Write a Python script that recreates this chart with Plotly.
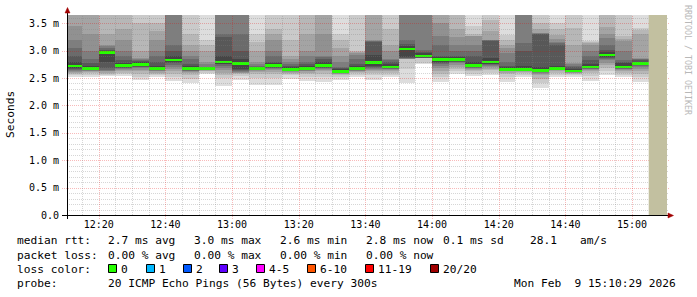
import plotly.graph_objects as go
from datetime import datetime, timedelta

# ---------------- data ----------------
DAY = "2026-02-09"
bar_starts = ["12:10", "12:15", "12:20", "12:25", "12:30", "12:35", "12:40", "12:45", "12:50", "12:55",
              "13:00", "13:05", "13:10", "13:15", "13:20", "13:25", "13:30", "13:35", "13:40", "13:45",
              "13:50", "13:55", "14:00", "14:05", "14:10", "14:15", "14:20", "14:25", "14:30", "14:35",
              "14:40", "14:45", "14:50", "14:55", "15:00"]

# median RTT per 5-minute step (ms)
medians_ms = [2.72, 2.68, 2.97, 2.73, 2.75, 2.67, 2.83, 2.67, 2.67, 2.79,
              2.77, 2.67, 2.73, 2.66, 2.67, 2.73, 2.62, 2.67, 2.78, 2.70,
              3.03, 2.90, 2.84, 2.84, 2.73, 2.79, 2.66, 2.66, 2.64, 2.68,
              2.63, 2.70, 2.92, 2.70, 2.77]

# 20 sorted ping times per step (ms) -> smoke
pings_ms = [
    [2.51, 2.55, 2.57, 2.59, 2.61, 2.63, 2.65, 2.67, 2.69, 2.70, 2.74, 2.80, 2.90, 3.05, 3.20, 3.45, 3.90, 4.20, 4.60, 5.20],
    [2.51, 2.56, 2.59, 2.61, 2.62, 2.63, 2.64, 2.65, 2.66, 2.67, 2.69, 2.72, 2.78, 2.85, 3.00, 3.30, 3.80, 4.10, 4.50, 5.00],
    [2.53, 2.56, 2.58, 2.60, 2.62, 2.63, 2.65, 2.68, 2.80, 2.96, 2.98, 3.00, 3.02, 3.05, 3.08, 3.10, 3.30, 3.80, 4.20, 4.80],
    [2.53, 2.57, 2.60, 2.62, 2.64, 2.66, 2.68, 2.69, 2.70, 2.71, 2.75, 2.78, 2.82, 2.90, 3.00, 3.20, 3.40, 3.90, 4.30, 4.90],
    [2.46, 2.52, 2.58, 2.62, 2.65, 2.68, 2.70, 2.71, 2.72, 2.73, 2.77, 2.79, 2.81, 2.83, 2.85, 2.87, 3.00, 3.50, 3.90, 4.50],
    [2.51, 2.55, 2.58, 2.60, 2.62, 2.63, 2.64, 2.65, 2.65, 2.65, 2.69, 2.72, 2.80, 2.90, 3.00, 3.20, 3.35, 3.50, 3.90, 4.50],
    [2.44, 2.52, 2.58, 2.62, 2.66, 2.70, 2.74, 2.77, 2.79, 2.81, 2.85, 2.90, 3.00, 3.10, 3.70, 3.90, 4.10, 4.40, 4.80, 5.30],
    [2.41, 2.48, 2.55, 2.59, 2.61, 2.62, 2.63, 2.64, 2.65, 2.65, 2.69, 2.72, 2.75, 2.85, 2.90, 3.00, 3.10, 3.30, 3.80, 4.40],
    [2.58, 2.60, 2.62, 2.63, 2.64, 2.65, 2.655, 2.66, 2.66, 2.66, 2.68, 2.685, 2.69, 2.70, 2.75, 2.80, 3.00, 3.10, 3.20, 4.00],
    [2.35, 2.50, 2.55, 2.60, 2.64, 2.68, 2.72, 2.75, 2.76, 2.77, 2.81, 2.90, 3.25, 3.30, 3.70, 3.90, 4.20, 4.50, 4.90, 5.50],
    [2.47, 2.53, 2.57, 2.59, 2.60, 2.61, 2.62, 2.64, 2.66, 2.75, 2.79, 2.85, 3.00, 3.30, 3.70, 3.90, 4.20, 4.50, 4.90, 5.40],
    [2.37, 2.50, 2.58, 2.61, 2.63, 2.64, 2.65, 2.655, 2.66, 2.66, 2.68, 2.69, 2.70, 2.72, 2.75, 2.80, 3.00, 3.15, 3.30, 4.00],
    [2.37, 2.50, 2.57, 2.61, 2.64, 2.66, 2.68, 2.69, 2.70, 2.71, 2.75, 2.78, 2.80, 2.90, 3.00, 3.20, 3.30, 3.40, 3.90, 4.50],
    [2.49, 2.55, 2.58, 2.60, 2.61, 2.62, 2.63, 2.635, 2.64, 2.64, 2.68, 2.70, 2.72, 2.75, 2.80, 2.85, 2.90, 3.20, 3.80, 4.40],
    [2.44, 2.52, 2.57, 2.60, 2.62, 2.63, 2.64, 2.65, 2.65, 2.65, 2.69, 2.72, 2.75, 2.80, 2.90, 3.00, 3.30, 3.80, 4.20, 4.80],
    [2.43, 2.52, 2.58, 2.62, 2.65, 2.67, 2.68, 2.69, 2.70, 2.71, 2.75, 2.80, 2.85, 2.88, 2.90, 3.30, 3.80, 4.10, 4.50, 5.00],
    [2.46, 2.52, 2.55, 2.57, 2.58, 2.59, 2.595, 2.60, 2.60, 2.60, 2.64, 2.66, 2.68, 2.70, 2.80, 2.90, 3.05, 3.20, 3.30, 4.00],
    [2.51, 2.56, 2.59, 2.61, 2.62, 2.63, 2.64, 2.65, 2.65, 2.65, 2.69, 2.72, 2.75, 2.85, 2.92, 2.96, 2.98, 3.00, 3.80, 4.40],
    [2.47, 2.55, 2.60, 2.63, 2.65, 2.67, 2.68, 2.70, 2.72, 2.76, 2.80, 2.92, 3.15, 3.17, 3.18, 3.19, 3.80, 4.00, 4.40, 5.00],
    [2.51, 2.56, 2.60, 2.63, 2.65, 2.66, 2.67, 2.675, 2.68, 2.68, 2.72, 2.75, 2.80, 2.83, 2.85, 3.00, 3.10, 3.40, 3.90, 4.50],
    [2.41, 2.67, 2.84, 2.845, 2.85, 2.855, 2.858, 2.86, 2.88, 3.01, 3.05, 3.08, 3.12, 3.20, 3.70, 3.90, 4.10, 4.40, 4.80, 5.30],
    [2.76, 2.78, 2.86, 2.862, 2.864, 2.866, 2.868, 2.87, 2.875, 2.88, 2.92, 2.95, 2.98, 3.01, 3.70, 3.90, 4.20, 4.60, 5.10, 5.60],
    [2.43, 2.52, 2.58, 2.63, 2.68, 2.72, 2.75, 2.78, 2.80, 2.82, 2.86, 2.88, 2.90, 3.10, 3.26, 3.50, 3.80, 4.00, 4.40, 5.00],
    [2.57, 2.62, 2.66, 2.70, 2.74, 2.77, 2.79, 2.80, 2.81, 2.82, 2.86, 2.88, 2.90, 3.00, 3.10, 3.25, 3.40, 3.80, 4.20, 4.80],
    [2.53, 2.58, 2.62, 2.65, 2.67, 2.68, 2.69, 2.70, 2.71, 2.71, 2.75, 2.80, 2.90, 3.00, 3.10, 3.26, 3.27, 3.30, 3.45, 4.20],
    [2.55, 2.60, 2.64, 2.67, 2.70, 2.72, 2.74, 2.75, 2.76, 2.77, 2.81, 2.86, 3.18, 3.19, 3.20, 3.20, 3.35, 3.55, 3.90, 4.40],
    [2.43, 2.52, 2.57, 2.60, 2.62, 2.63, 2.635, 2.64, 2.64, 2.64, 2.68, 2.70, 2.72, 2.80, 2.95, 3.05, 3.10, 3.20, 3.29, 4.00],
    [2.51, 2.56, 2.59, 2.61, 2.62, 2.63, 2.635, 2.64, 2.64, 2.64, 2.68, 2.72, 3.00, 3.14, 3.70, 3.90, 4.10, 4.40, 4.80, 5.30],
    [2.32, 2.40, 2.48, 2.55, 2.58, 2.60, 2.61, 2.615, 2.62, 2.62, 2.66, 2.70, 3.30, 3.31, 3.32, 3.33, 3.40, 3.50, 3.90, 4.40],
    [2.51, 2.56, 2.60, 2.62, 2.64, 2.65, 2.655, 2.66, 2.66, 2.66, 2.70, 2.72, 3.10, 3.13, 3.15, 3.22, 3.29, 3.40, 3.50, 4.10],
    [2.52, 2.56, 2.58, 2.59, 2.60, 2.605, 2.61, 2.61, 2.61, 2.61, 2.65, 2.67, 2.70, 2.72, 2.75, 2.77, 3.10, 3.41, 3.90, 4.40],
    [2.45, 2.54, 2.59, 2.62, 2.64, 2.66, 2.67, 2.675, 2.68, 2.68, 2.72, 2.75, 2.82, 2.90, 3.00, 3.10, 3.13, 3.15, 3.17, 4.00],
    [2.55, 2.62, 2.68, 2.73, 2.78, 2.82, 2.85, 2.87, 2.88, 2.90, 2.94, 2.97, 3.01, 3.10, 3.23, 3.30, 3.44, 3.80, 4.20, 4.80],
    [2.51, 2.56, 2.60, 2.63, 2.65, 2.66, 2.67, 2.675, 2.68, 2.68, 2.72, 2.77, 2.80, 2.83, 3.00, 3.17, 3.22, 3.26, 3.90, 4.40],
    [2.43, 2.52, 2.58, 2.63, 2.67, 2.70, 2.72, 2.74, 2.75, 2.75, 2.79, 2.80, 2.82, 2.84, 2.85, 2.86, 3.30, 3.38, 3.41, 4.00],
]

x_tick_labels = ["12:20", "12:40", "13:00", "13:20", "13:40", "14:00", "14:20", "14:40", "15:00"]
y_tick_vals = [0.0, 0.5, 1.0, 1.5, 2.0, 2.5, 3.0, 3.5]
y_tick_text = ["0.0", "0.5 m", "1.0 m", "1.5 m", "2.0 m", "2.5 m", "3.0 m", "3.5 m"]

graph_start = "12:10:29"
graph_end = "15:10:29"
unknown_start = "15:05:00"
Y_MAX = 3.65

loss_labels = ["0", "1", "2", "3", "4-5", "6-10", "11-19", "20/20"]
loss_colors = ["#26ff00", "#00b8ff", "#0059ff", "#5e00ff", "#ff00ff", "#ff5500", "#ff0000", "#a00000"]

# ---------------- helpers ----------------
W, H = 697, 297
ML, MR, MT, MB = 67, 30, 15, 82
PW, PH = W - ML - MR, H - MT - MB


def px(x):
    return (x - ML) / PW


def py(y):
    return (H - MB - y) / PH


def dt(hm):
    fmt = "%Y-%m-%d %H:%M:%S" if hm.count(":") == 2 else "%Y-%m-%d %H:%M"
    return datetime.strptime(DAY + " " + hm, fmt)


T0, T1 = dt(graph_start), dt(graph_end)
SPAN = (T1 - T0).total_seconds()


def snap_x(t):
    # pixel-aligned column for a time value (for crisp rrdtool-like grid lines)
    col = round(ML + (t - T0).total_seconds() / SPAN * PW)
    return px(col + 0.5)


def snap_y(v):
    row = round(MT + PH - v / Y_MAX * PH)
    return py(row + 0.5)


STEP = 300
centers = [dt(s) + timedelta(seconds=STEP / 2) for s in bar_starts]
MONO = "DejaVu Sans Mono"

fig = go.Figure()

# smoke layers (outer light -> inner dark)
n = 20
half = n // 2
for i in range(1, half + 1):
    g = int(190 / half * (half - i)) + 50
    base = [p[i - 1] for p in pings_ms]
    top = [p[n - i] for p in pings_ms]
    fig.add_trace(go.Bar(
        x=centers, base=base, y=[t - b for t, b in zip(top, base)],
        width=STEP * 1000, marker=dict(color=f"rgb({g},{g},{g})", line=dict(width=0)),
        hoverinfo="skip"))

# median line (loss colour 0)
MED_H = 0.05
fig.add_trace(go.Bar(
    x=centers, base=[m - MED_H / 2 for m in medians_ms], y=[MED_H] * len(medians_ms),
    width=STEP * 1000, marker=dict(color=loss_colors[0], line=dict(width=0)),
    hoverinfo="skip"))

shapes = []
# grid (drawn over the smoke, like rrdtool)
minor_col = "rgba(128,128,128,0.32)"
major_col = "rgba(229,0,0,0.27)"
dash = "1px,1px"
k = 1
while k * 0.1 < Y_MAX:
    v = round(k * 0.1, 2)
    major = (k % 5 == 0)
    yy = snap_y(v)
    shapes.append(dict(type="line", xref="paper", yref="paper", x0=px(62) if major else px(67), x1=px(669), y0=yy, y1=yy,
                       line=dict(color=major_col if major else minor_col, width=1, dash=dash), layer="above"))
    k += 1
t = dt("12:15")
while t < T1:
    major = (t.minute % 20 == 0)
    xx = snap_x(t)
    shapes.append(dict(type="line", xref="paper", yref="paper", x0=xx, x1=xx, y0=py(219) if major else py(215), y1=1,
                       line=dict(color=major_col if major else minor_col, width=1, dash=dash), layer="above"))
    t += timedelta(minutes=5)

# unknown data area
shapes.append(dict(type="rect", xref="x", yref="paper", x0=dt(unknown_start), x1=T1, y0=0, y1=1,
                   fillcolor="#c2c0a0", line=dict(width=0), layer="above"))

# axes lines + arrows
shapes.append(dict(type="line", xref="paper", yref="paper", x0=px(62), x1=px(670), y0=py(215.5), y1=py(215.5),
                   line=dict(color="black", width=1), layer="above"))
shapes.append(dict(type="line", xref="paper", yref="paper", x0=px(67.5), x1=px(67.5), y0=py(219), y1=py(12),
                   line=dict(color="black", width=1), layer="above"))
shapes.append(dict(type="path", xref="paper", yref="paper",
                   path=f"M {px(65)} {py(13)} L {px(67.5)} {py(7.5)} L {px(70)} {py(13)} Z",
                   fillcolor="#a00000", line=dict(color="#a00000", width=0.5), layer="above"))
shapes.append(dict(type="path", xref="paper", yref="paper",
                   path=f"M {px(668)} {py(213)} L {px(673.5)} {py(215.5)} L {px(668)} {py(218)} Z",
                   fillcolor="#a00000", line=dict(color="#a00000", width=0.5), layer="above"))

annotations = []


def txt(x, y, s, size=11.2, color="black", anchor="left", angle=0):
    annotations.append(dict(xref="paper", yref="paper", x=px(x), y=py(y), text=s, showarrow=False,
                            xanchor=anchor, yanchor="middle", textangle=angle,
                            font=dict(family=MONO, size=size, color=color), borderpad=0))


# axis title and watermark
txt(10, 115, "Seconds", size=11.2, anchor="center", angle=-90)
txt(688, 60, "RRDTOOL / TOBI OETIKER", size=8.3, color="#b8b8b8", anchor="center", angle=90)

NB = "\u00a0"
# legend lines
txt(16, 241, "median rtt:")
txt(107, 241, "2.7 ms avg")
txt(193, 241, "3.0 ms max")
txt(279, 241, "2.6 ms min")
txt(365, 241, "2.8 ms now")
txt(442, 241, "0.1 ms sd")
txt(529, 241, "28.1")
txt(579, 241, "am/s")

txt(16, 255, "packet loss:")
txt(107, 255, "0.00 % avg")
txt(193, 255, "0.00 % max")
txt(279, 255, "0.00 % min")
txt(365, 255, "0.00 % now")

txt(16, 269, "loss color:")
sq_x = [108, 146, 183, 219, 256, 307, 365, 430]
for x0, lab, col in zip(sq_x, loss_labels, loss_colors):
    shapes.append(dict(type="rect", xref="paper", yref="paper", x0=px(x0 + 0.5), x1=px(x0 + 8.5),
                       y0=py(272.5), y1=py(264.5),
                       fillcolor=col, line=dict(color="black", width=1), layer="above"))
    txt(x0 + 12, 269, lab)

txt(16, 283, "probe:")
txt(107, 283, "20 ICMP Echo Pings (56 Bytes) every 300s")
txt(513, 283, "Mon Feb" + NB + NB + "9 15:10:29 2026")

fig.update_layout(
    width=W, height=H, autosize=False,
    margin=dict(l=ML, r=MR, t=MT, b=MB),
    paper_bgcolor="white", plot_bgcolor="white",
    barmode="overlay", bargap=0, showlegend=False,
    shapes=shapes, annotations=annotations,
    xaxis=dict(type="date", range=[T0, T1],
               tickvals=[dt(s) for s in x_tick_labels], ticktext=x_tick_labels,
               showgrid=False, zeroline=False, showline=False, ticks="",
               tickfont=dict(family=MONO, size=10, color="black"), ticklabelstandoff=2),
    yaxis=dict(range=[0, Y_MAX], tickvals=y_tick_vals, ticktext=y_tick_text,
               showgrid=False, zeroline=False, showline=False, ticks="",
               tickfont=dict(family=MONO, size=10, color="black"), ticklabelstandoff=7),
)

fig.write_html("out.html")
